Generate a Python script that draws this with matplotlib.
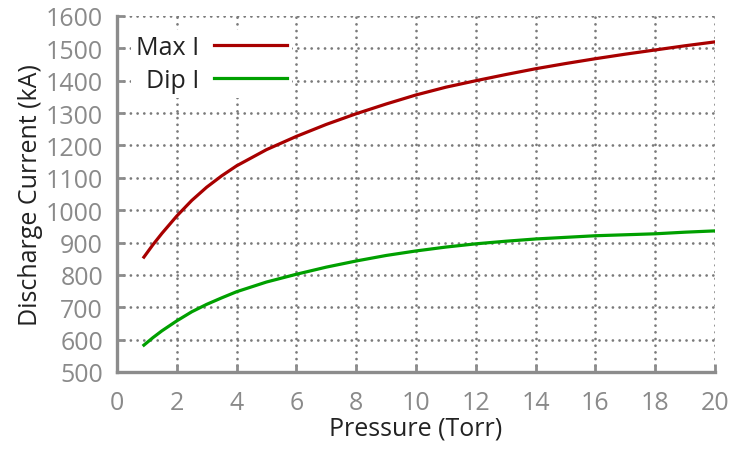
import matplotlib
matplotlib.use("Agg")
import matplotlib.pyplot as plt

plt.rcParams['font.family'] = ['Open Sans', 'DejaVu Sans']
plt.rcParams['lines.dash_capstyle'] = 'round'

# Werte
pressure = [0.9, 1.2, 1.5, 2, 2.5, 3, 3.5, 4, 5, 6, 7, 8, 9, 10, 11, 12, 13, 14, 15, 16, 17, 18, 19, 20]
max_i = [855, 893, 928, 982, 1030, 1071, 1106, 1137, 1187, 1228, 1265, 1298, 1328, 1356, 1380, 1400,
         1419, 1437, 1453, 1468, 1482, 1495, 1508, 1520]
dip_i = [583, 606, 627, 658, 686, 709, 729, 748, 778, 802, 824, 843, 860, 874, 886, 896,
         904, 911, 916, 921, 924, 927, 932, 936]

grey = '#8c8c8c'
fig = plt.figure(figsize=(7.34, 4.52), dpi=100)
ax = fig.add_axes([0.1594, 0.1748, 0.8146, 0.7876])

ax.plot(pressure, max_i, color='#a80000', lw=2.3, label='Max I', zorder=3)
ax.plot(pressure, dip_i, color='#00a000', lw=2.3, label='Dip I', zorder=3)

ax.set_xlim(0, 20)
ax.set_ylim(500, 1600)
ax.set_xticks(range(0, 21, 2))
ax.set_yticks(range(500, 1601, 100))

ax.grid(True, color='#7a7a7a', linestyle=(0, (0.01, 2.4)), lw=2.0, dash_capstyle='round')
ax.set_axisbelow(True)

for s in ['top', 'right']:
    ax.spines[s].set_visible(False)
for s in ['left', 'bottom']:
    ax.spines[s].set_color(grey)
    ax.spines[s].set_linewidth(2.4)

ax.tick_params(direction='in', length=6, width=2, color=grey,
               labelcolor='#8a8a8a', labelsize=18)
ax.tick_params(axis='x', pad=13)
ax.tick_params(axis='y', pad=10)

ax.set_xlabel('Pressure (Torr)', fontsize=18, color='#222222', labelpad=0)
ax.set_ylabel('Discharge Current (kA)', fontsize=18, color='#222222', labelpad=2)

leg = ax.legend(loc='upper right', bbox_to_anchor=(0.292, 0.962), borderaxespad=0,
                markerfirst=False, fontsize=18, frameon=True,
                handlelength=2.9, handletextpad=0.6, labelspacing=0.32,
                borderpad=0.2)
leg.get_frame().set_edgecolor('none')
leg.get_frame().set_facecolor('white')
leg.get_frame().set_alpha(1)
for t in leg.get_texts():
    t.set_color('#222222')

plt.savefig('out.png', dpi=100)
